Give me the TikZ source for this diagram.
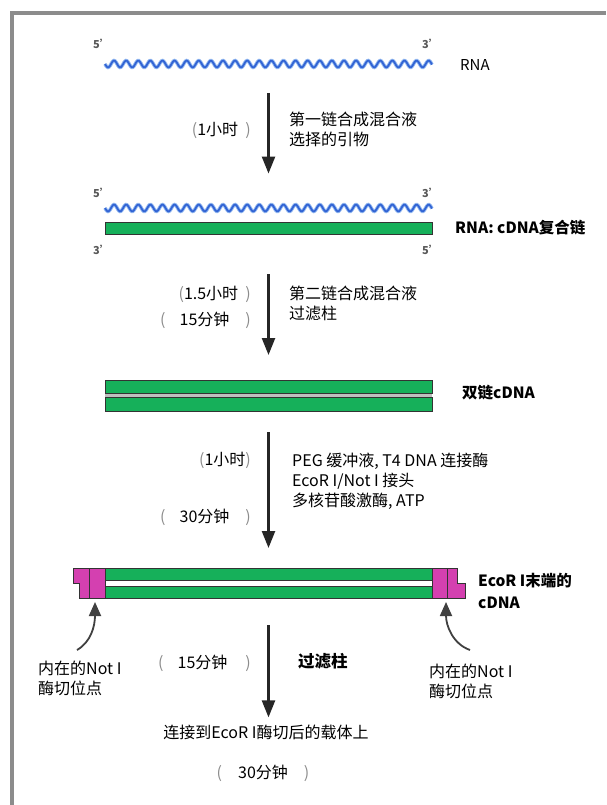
\documentclass[tikz,border=0pt]{standalone}
\usepackage{fontspec}
\setmainfont{Noto Sans CJK SC}
\usetikzlibrary{arrows.meta,positioning}
\definecolor{framegray}{gray}{0.55}
\definecolor{strandgreen}{RGB}{22,176,90}
\definecolor{adaptpink}{RGB}{212,64,176}
\definecolor{rnablue}{RGB}{50,100,212}
\definecolor{rnaglow}{RGB}{150,186,240}

\begin{document}
\begin{tikzpicture}[x=1pt, y=-1pt,
  frame/.style={draw=framegray, line width=3.5pt},
  strand/.style={draw=black!80, line width=0.9pt, fill=strandgreen, minimum width=327pt, inner sep=0pt},
  adaptor/.style={draw=black!80, line width=0.9pt, fill=adaptpink},
  rnaback/.style={draw=rnaglow, line width=3.6pt},
  rnafront/.style={draw=rnablue, line width=1.8pt},
  flow/.style={-{Triangle[width=13pt,length=17pt]}, line width=2.4pt, draw=black!85},
  site/.style={-{Triangle[width=12pt,length=14pt]}, line width=1.8pt, draw=black!75},
  prime/.style={font=\bfseries\fontsize{11}{11}\selectfont, text=black!65, inner sep=0pt},
  txt/.style={font=\fontsize{16}{20}\selectfont, align=left, inner sep=0pt},
  tag/.style={font=\bfseries\fontsize{15.5}{22}\selectfont, align=left, inner sep=0pt, anchor=west},
  time/.style={font=\fontsize{16}{20}\selectfont, inner sep=0pt},
]
  \useasboundingbox (0,0) rectangle (606,805);
  \draw[frame] (12,805) -- (12,13) -- (606,13);

  % the two RNA strands, as sine waves (12.1 units per turn)
  \foreach \wy in {64,208} {
    \draw[rnaback] plot[domain=105:432, samples=330, smooth] (\x, {\wy+3.4*sin(29.752*(\x-105))});
    \draw[rnafront] plot[domain=105:432, samples=330, smooth] (\x, {\wy+3.4*sin(29.752*(\x-105))});
  }

  % single-stranded RNA
  \node[prime] (r5) at (102,44) {5'};
  \node[prime] (r3) at (431,44) {3'};
  \coordinate (rna) at (268.5,64);
  \node[txt, anchor=west, font=\fontsize{15}{18}\selectfont] (rnalbl) at (460,65) {RNA};

  % RNA:cDNA hybrid
  \node[prime] (h5) at (102,193) {5'};
  \node[prime] (h3) at (431,193) {3'};
  \node[strand, minimum height=12pt] (hyb) at (268.5,228.5) {};
  \node[prime] (c3) at (102,250) {3'};
  \node[prime] (c5) at (431,250) {5'};
  \node[tag] (hyblbl) at (455,228) {RNA: cDNA复合链};

  % double-stranded cDNA
  \fill[gray!50] (105,380) rectangle (432,411);
  \node[strand, minimum height=13pt] (dstop) at (268.5,386.5) {};
  \node[strand, minimum height=14pt] (dsbot) at (268.5,404) {};
  \coordinate (ds) at (268.5,395.5);
  \node[tag] (dslbl) at (462,393) {双链cDNA};

  % cDNA with EcoR I ends
  \node[strand, minimum height=12pt] (ecotop) at (268.5,574) {};
  \node[strand, minimum height=12pt] (ecobot) at (268.5,592) {};
  \coordinate (eco) at (268.5,583);
  \draw[adaptor] (73,568) -- (89,568) -- (89,598) -- (79,598) -- (79,583) -- (73,583) -- cycle;
  \draw[adaptor] (89,568) rectangle (105,598);
  \draw[adaptor] (432,568) rectangle (447,598);
  \draw[adaptor] (447,568) -- (457,568) -- (457,583) -- (465,583) -- (465,598) -- (447,598) -- cycle;
  \node[tag] (ecolbl) at (478,591) {EcoR I末端的\\cDNA};

  % internal Not I sites
  \node[txt, anchor=west] (lnot) at (38,678) {内在的Not I\\酶切位点};
  \node[txt, anchor=west] (rnot) at (429,681) {内在的Not I\\酶切位点};
  \coordinate (ltail) at (77,650);
  \coordinate (ltip) at (95,602);
  \coordinate (rtail) at (470,650);
  \coordinate (rtip) at (446,602);
  \draw[site] (ltail) .. controls +(14,-8) and +(0,24) .. (ltip);
  \draw[site] (rtail) .. controls +(-17,-6) and +(0,24) .. (rtip);

  \node[txt] (vec) at (266,732) {连接到EcoR I酶切后的载体上};

  % reaction steps
  \draw[flow, shorten <=29pt, shorten >=48.5pt] (rna) -- (hyb);
  \draw[flow, shorten <=39.5pt, shorten >=40.5pt] (hyb) -- (ds);
  \draw[flow, shorten <=36.5pt, shorten >=35pt] (ds) -- (eco);
  \draw[flow, shorten <=42pt, shorten >=7pt] (eco) -- (eco |- vec.north);

  \node[txt, anchor=west] (mix1) at (289,129.5) {第一链合成混合液\\选择的引物};
  \node[txt, anchor=west] (mix2) at (289,303) {第二链合成混合液\\过滤柱};
  \node[txt, anchor=west] (mix3) at (292,481) {PEG 缓冲液, T4 DNA 连接酶\\EcoR I/Not I 接头\\多核苷酸激酶, ATP};
  \node[tag, font=\bfseries\fontsize{16.5}{20}\selectfont] (spin) at (298,661) {过滤柱};

  \node[time, anchor=east] (t1) at (251,130) {\textcolor{black!45}{(}1小时\ \ \textcolor{black!45}{)}};
  \node[time, anchor=east] (t2) at (251,294) {\textcolor{black!45}{(}1.5小时\ \ \textcolor{black!45}{)}};
  \node[time, anchor=east] (t3) at (251,320) {\textcolor{black!45}{(}\hspace{14pt}15分钟\hspace{16pt}\textcolor{black!45}{)}};
  \node[time, anchor=east] (t4) at (251,460) {\textcolor{black!45}{(}1小时\textcolor{black!45}{)}};
  \node[time, anchor=east] (t5) at (251,517) {\textcolor{black!45}{(}\hspace{14pt}30分钟\hspace{16pt}\textcolor{black!45}{)}};
  \node[time, anchor=east] (t6) at (251,663) {\textcolor{black!45}{(}\hspace{14pt}15分钟\hspace{18pt}\textcolor{black!45}{)}};
  \node[time] (t7) at (263,773) {\textcolor{black!45}{(}\hspace{16pt}30分钟\hspace{16pt}\textcolor{black!45}{)}};
\end{tikzpicture}
\end{document}
